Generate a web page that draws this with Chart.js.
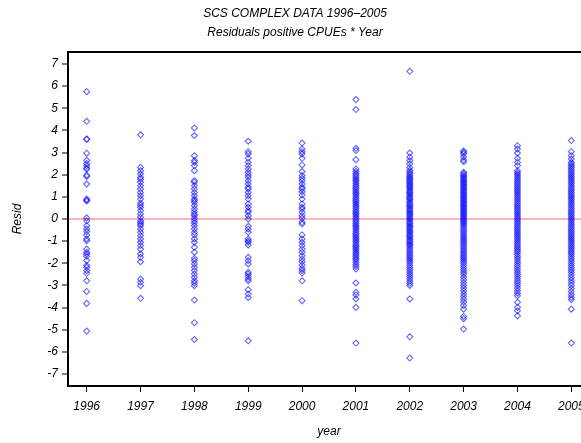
<!DOCTYPE html>
<html>
<head>
<meta charset="utf-8">
<script src="https://cdn.jsdelivr.net/npm/chart.js@4.4.1/dist/chart.umd.min.js"></script>
<style>
html,body{margin:0;padding:0;background:#fff;overflow:hidden;}
#wrap{position:relative;width:600px;height:443px;}
</style>
</head>
<body>
<div id="wrap"><canvas id="cv"></canvas></div>
<script>
// ═══ DATA ═══
var years=[1996,1997,1998,1999,2000,2001,2002,2003,2004,2005];
var yTicks=[-7,-6,-5,-4,-3,-2,-1,0,1,2,3,4,5,6,7];

var r1996=[5.75,4.41,3.61,3.6,2.97,2.65,2.5,2.4,2.3,2.25,1.98,1.92,1.58,0.9,0.81,0.85,0.05,-0.08,-0.3,-0.45,-0.57,-0.72,-0.9,-0.98,-1.36,-1.5,-1.58,-1.68,-1.87,-2.1,-2.18,-2.33,-2.45,-2.79,-3.27,-3.81,-5.06];
var r1997=[3.8,2.33,2.18,2.03,1.88,1.8,1.66,1.5,1.36,1.2,1.05,0.9,0.72,0.63,0.53,0.38,0.23,0.08,-0.08,-0.15,-0.23,-0.3,-0.45,-0.6,-0.75,-0.9,-1.05,-1.2,-1.36,-1.58,-1.73,-1.93,-2.71,-2.86,-3.01,-3.58];
var r1998=[4.11,3.77,2.86,2.64,2.56,2.41,2.18,1.73,1.66,1.5,1.36,1.2,1.05,0.9,0.83,0.75,0.6,0.45,0.33,0.23,0.15,0.03,-0.08,-0.18,-0.3,-0.45,-0.6,-0.72,-0.9,-1.05,-1.28,-1.5,-1.78,-1.88,-2.03,-2.18,-2.33,-2.48,-2.64,-2.79,-2.89,-3.01,-3.66,-4.68,-5.44];
var r1999=[3.51,3.04,2.94,2.74,2.56,2.41,2.26,2.11,1.99,1.88,1.73,1.58,1.43,1.36,1.2,1.05,0.9,0.68,0.53,0.38,0.3,0.15,0.0,-0.33,-0.45,-0.6,-0.9,-0.98,-1.05,-1.17,-1.73,-1.88,-2.03,-2.41,-2.48,-2.59,-2.71,-2.79,-3.19,-3.39,-3.54,-5.5];
var r2000=[3.43,3.16,3.04,2.94,2.74,2.44,2.14,1.96,1.84,1.73,1.58,1.43,1.36,1.23,1.08,0.9,0.68,0.53,0.45,0.3,0.15,0.03,-0.15,-0.23,-0.72,-0.9,-1.05,-1.2,-1.36,-1.5,-1.66,-1.81,-1.93,-2.08,-2.23,-2.33,-2.44,-2.79,-3.69];
var r2001=[5.39,4.94,3.19,3.09,2.68,2.26,2.15,2.05,1.98,1.9,1.82,1.75,1.68,1.6,1.52,1.45,1.38,1.3,1.22,1.15,1.08,1.0,0.92,0.85,0.78,0.7,0.62,0.55,0.48,0.4,0.32,0.25,0.18,0.1,0.03,-0.05,-0.12,-0.2,-0.28,-0.35,-0.42,-0.5,-0.58,-0.65,-0.72,-0.8,-0.88,-0.95,-1.02,-1.1,-1.18,-1.25,-1.32,-1.4,-1.48,-1.55,-1.62,-1.7,-1.78,-1.85,-1.95,-2.05,-2.15,-2.26,-2.89,-3.31,-3.43,-3.61,-3.99,-5.6];
var r2002=[6.67,2.98,2.79,2.64,2.49,2.33,2.2,2.12,2.05,1.98,1.9,1.84,1.78,1.72,1.65,1.58,1.52,1.46,1.4,1.33,1.26,1.2,1.14,1.07,1.0,0.94,0.88,0.8,0.73,0.66,0.6,0.53,0.46,0.4,0.33,0.26,0.2,0.13,0.06,0.0,-0.07,-0.14,-0.2,-0.27,-0.34,-0.4,-0.47,-0.54,-0.6,-0.67,-0.74,-0.8,-0.87,-0.94,-1.0,-1.07,-1.14,-1.2,-1.28,-1.36,-1.44,-1.52,-1.6,-1.68,-1.76,-1.84,-1.92,-2.0,-2.1,-2.2,-2.3,-2.4,-2.5,-2.6,-2.7,-2.8,-2.9,-3.0,-3.61,-5.32,-6.28];
var r2003=[3.07,3.01,2.94,2.8,2.66,2.59,2.11,2.05,1.98,1.92,1.86,1.8,1.74,1.68,1.62,1.56,1.5,1.44,1.38,1.32,1.26,1.2,1.14,1.08,1.02,0.96,0.9,0.84,0.78,0.72,0.66,0.6,0.54,0.48,0.42,0.36,0.3,0.24,0.18,0.12,0.06,0.0,-0.06,-0.12,-0.18,-0.25,-0.32,-0.4,-0.48,-0.56,-0.64,-0.72,-0.8,-0.88,-0.96,-1.04,-1.12,-1.2,-1.28,-1.36,-1.44,-1.52,-1.6,-1.68,-1.76,-1.84,-1.92,-2.0,-2.1,-2.2,-2.3,-2.4,-2.5,-2.62,-2.75,-2.88,-3.0,-3.12,-3.25,-3.38,-3.5,-3.62,-3.75,-3.9,-4.07,-4.4,-4.5,-4.97];
var r2004=[3.31,3.16,2.98,2.74,2.56,2.41,2.18,2.1,2.02,1.94,1.86,1.78,1.7,1.62,1.54,1.46,1.38,1.3,1.22,1.14,1.06,0.98,0.9,0.82,0.74,0.66,0.58,0.5,0.42,0.34,0.26,0.18,0.1,0.02,-0.06,-0.14,-0.22,-0.3,-0.38,-0.46,-0.54,-0.62,-0.7,-0.78,-0.86,-0.94,-1.02,-1.1,-1.18,-1.26,-1.34,-1.42,-1.5,-1.6,-1.7,-1.8,-1.9,-2.0,-2.1,-2.2,-2.3,-2.4,-2.5,-2.6,-2.7,-2.8,-2.9,-3.0,-3.12,-3.24,-3.35,-3.46,-3.76,-3.99,-4.14,-4.37];
var r2005=[3.54,3.04,2.86,2.71,2.56,2.48,2.4,2.32,2.24,2.16,2.08,2.0,1.92,1.84,1.76,1.68,1.6,1.52,1.44,1.36,1.28,1.2,1.12,1.04,0.96,0.88,0.8,0.72,0.64,0.56,0.48,0.4,0.32,0.24,0.16,0.08,0.0,-0.08,-0.16,-0.24,-0.32,-0.4,-0.48,-0.56,-0.64,-0.72,-0.8,-0.88,-0.96,-1.04,-1.12,-1.2,-1.28,-1.36,-1.44,-1.52,-1.6,-1.7,-1.8,-1.9,-2.0,-2.1,-2.2,-2.3,-2.4,-2.52,-2.64,-2.76,-2.88,-3.0,-3.14,-3.28,-3.42,-3.54,-3.64,-4.07,-5.6];

var resid=[r1996,r1997,r1998,r1999,r2000,r2001,r2002,r2003,r2004,r2005];

// ═══ BUILD POINTS ═══
var pts=[];
years.forEach(function(y,i){resid[i].forEach(function(v){pts.push({x:y,y:v});});});

var FONT='"Liberation Sans", Arial, sans-serif';

// frame round the plot area
var framePlugin={id:'frame',afterDraw:function(c){
  var a=c.chartArea,ctx=c.ctx;
  ctx.save();ctx.strokeStyle='#000';ctx.lineWidth=2;
  ctx.strokeRect(a.left,a.top,a.right-a.left,a.bottom-a.top);
  ctx.restore();
}};

new Chart(document.getElementById('cv'),{
  type:'scatter',
  data:{datasets:[{
    data:pts,
    pointStyle:'rectRot',
    pointRadius:3,
    pointHoverRadius:3,
    borderColor:'rgba(0,0,255,0.6)',
    backgroundColor:'rgba(0,0,0,0)',
    borderWidth:1.1
  }]},
  options:{
    responsive:true,maintainAspectRatio:false,animation:false,
    layout:{padding:{left:0,right:10,top:0,bottom:0}},
    plugins:{
      legend:{display:false},
      tooltip:{enabled:false},
      title:{display:true,
        text:['SCS COMPLEX DATA 1996\u20132005','Residuals positive CPUEs * Year'],
        color:'#000',font:{family:FONT,size:12,style:'italic',weight:'normal',lineHeight:1.6},
        padding:{top:4,bottom:9.6}}
    },
    scales:{
      x:{type:'linear',min:1995.653,max:2005.347,
        afterBuildTicks:function(s){s.ticks=years.map(function(v){return{value:v};});},
        afterFit:function(s){s.height=57;},
        border:{display:false},
        grid:{drawOnChartArea:false,tickLength:6,tickColor:'#000',tickWidth:1},
        ticks:{color:'#000',padding:7,maxRotation:0,autoSkip:false,
          font:{family:FONT,size:12,style:'italic'},
          callback:function(v){return String(v);}},
        title:{display:true,text:'year',color:'#000',
          font:{family:FONT,size:12,style:'italic'},padding:{top:0,bottom:3.8}}
      },
      y:{type:'linear',min:-7.54,max:7.54,
        afterBuildTicks:function(s){s.ticks=yTicks.map(function(v){return{value:v};});},
        afterFit:function(s){s.width=68;},
        border:{display:false},
        grid:{
          color:function(ctx){return ctx.tick&&ctx.tick.value===0?'rgba(255,90,90,0.45)':'rgba(0,0,0,0)';},
          lineWidth:2,tickLength:6,tickColor:'#000',tickWidth:1},
        ticks:{color:'#000',padding:4,autoSkip:false,
          font:{family:FONT,size:12,style:'italic'}},
        title:{display:true,text:'Resid',color:'#000',
          font:{family:FONT,size:12,style:'italic'},padding:{top:10.8,bottom:0}}
      }
    }
  },
  plugins:[framePlugin]
});
</script>
</body>
</html>
